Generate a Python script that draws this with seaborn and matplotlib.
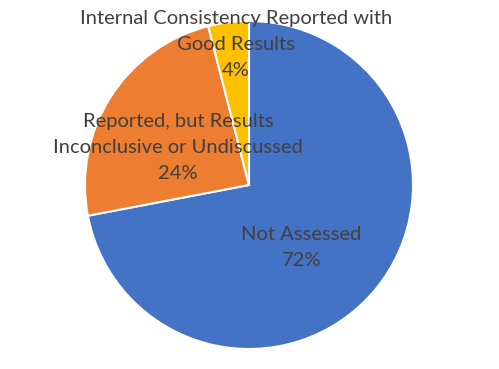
import matplotlib
matplotlib.use("Agg")
import matplotlib.pyplot as plt
import seaborn as sns

categories = ["Not Assessed",
              "Reported, but Results\nInconclusive or Undiscussed",
              "Internal Consistency Reported with\nGood Results"]
shares = [72, 24, 4]
colors = ["#4472C4", "#ED7D31", "#FFC000"]

sns.set_theme(style="white")
plt.rcParams['font.family'] = ['Lato', 'DejaVu Sans']

fig = plt.figure(figsize=(4.99, 3.69), dpi=100)
ax = fig.add_axes([85 / 499, 20 / 369, 328 / 499, 328 / 369])

wedges, _ = ax.pie(shares, colors=colors, startangle=90, counterclock=False,
                   wedgeprops=dict(edgecolor="white", linewidth=1.5))
ax.set_aspect("equal")
ax.set_xlim(-1.0, 1.0)
ax.set_ylim(-1.0, 1.0)

label_pos = [(0.32, -0.384), (-0.433, 0.226), (-0.079, 0.854)]
for cat, val, (x, y) in zip(categories, shares, label_pos):
    ax.text(x, y, f"{cat}\n{val}%", ha="center", va="center",
            fontsize=14.5, color="#404040", linespacing=1.64)

fig.savefig("out.png", dpi=100)
